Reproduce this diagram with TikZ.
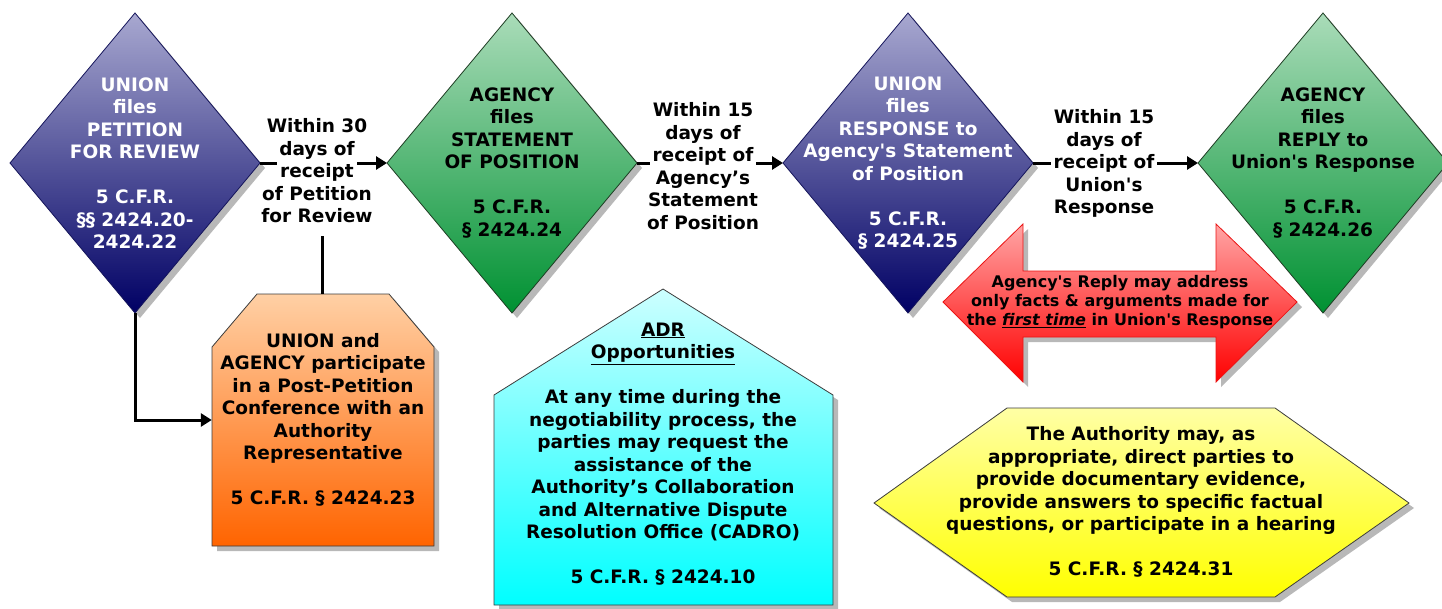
\documentclass[tikz,border=0pt]{standalone}
\usepackage{fontspec}
\setmainfont{DejaVu Sans}
\usetikzlibrary{shapes.geometric,shadows,arrows.meta}
\definecolor{blueTop}{RGB}{168,168,208}
\definecolor{blueBot}{RGB}{0,0,100}
\definecolor{blueLine}{RGB}{20,20,90}
\definecolor{greenTop}{RGB}{170,220,185}
\definecolor{greenBot}{RGB}{0,145,50}
\definecolor{greenLine}{RGB}{30,60,35}
\definecolor{orTop}{RGB}{255,208,165}
\definecolor{orBot}{RGB}{255,100,0}
\definecolor{cyTop}{RGB}{205,255,255}
\definecolor{cyBot}{RGB}{0,255,255}
\definecolor{ylTop}{RGB}{255,255,165}
\definecolor{ylBot}{RGB}{255,255,0}
\definecolor{rdTop}{RGB}{255,165,165}
\definecolor{rdBot}{RGB}{255,0,0}
\definecolor{rdLine}{RGB}{235,20,20}
\definecolor{shapeLine}{RGB}{60,60,60}
\newcommand\wb[1]{{\setlength{\fboxsep}{3pt}\colorbox{white}{#1}}}
\tikzset{
  shd/.style={drop shadow={shadow xshift=5pt,shadow yshift=-5pt,fill=black!28,opacity=1}},
  txt/.style={font=\fontsize{18.5}{22.5}\selectfont\bfseries, align=center, inner sep=0pt},
  rtxt/.style={font=\fontsize{16}{19}\selectfont\bfseries, align=center, inner sep=0pt},
  diabase/.style={diamond, minimum width=250pt, minimum height=300pt, inner sep=0pt, outer sep=0pt, line width=0.8pt, shd},
  bluedia/.style={diabase, draw=blueLine, top color=blueTop, bottom color=blueBot},
  greendia/.style={diabase, draw=greenLine, top color=greenTop, bottom color=greenBot},
  shapebox/.style={draw=shapeLine, line width=0.8pt, shd},
  conn/.style={line width=3pt, -{Triangle[length=11pt,width=13pt]}},
  plainline/.style={line width=3pt},
}
\begin{document}
\begin{tikzpicture}[x=1pt,y=-1pt]
\useasboundingbox (0,0) rectangle (1442,608);

% diamonds
\node[bluedia, label={[txt,text=white]center:{UNION\\files\\PETITION\\FOR REVIEW\\[22.5pt]5 C.F.R.\\§§ 2424.20-\\2424.22}}] (d1) at (135,163) {};
\node[greendia, label={[txt,text=black]center:{AGENCY\\files\\STATEMENT\\OF POSITION\\[22.5pt]5 C.F.R.\\§ 2424.24}}] (d2) at (512,163) {};
\node[bluedia, label={[txt,text=white]center:{UNION\\files\\RESPONSE to\\Agency\textquotesingle s Statement\\of Position\\[22.5pt]5 C.F.R.\\§ 2424.25}}] (d3) at (908,163) {};
\node[greendia, label={[txt,text=black]center:{AGENCY\\files\\REPLY to\\Union\textquotesingle s Response\\[22.5pt]5 C.F.R.\\§ 2424.26}}] (d4) at (1323,163) {};

% main connectors
\draw[conn] (d1.east) -- (d2.west);
\draw[conn] (d2.east) -- (d3.west);
\draw[conn] (d3.east) -- (d4.west);

% connector labels
\node[txt] (l1) at (317,171) {Within 30\\days of\\\wb{receipt}\\of Petition\\for Review};
\node[txt] (l2) at (703,166) {Within 15\\days of\\\wb{receipt of}\\Agency’s\\Statement\\of Position};
\node[txt] (l3) at (1104,163.5) {Within 15\\days of\\\wb{receipt of}\\Union\textquotesingle s\\Response};

% orange box
\path[shapebox, top color=orTop, bottom color=orBot]
  (212,347) -- (257,294) -- (389,294) -- (434,347) -- (434,546) -- (212,546) -- cycle;
\node[txt, minimum width=222pt, minimum height=252pt] (post) at (323,420)
  {UNION and\\AGENCY participate\\in a Post-Petition\\Conference with an\\Authority\\Representative\\[22.5pt]5 C.F.R. § 2424.23};
\draw[conn] (d1.south) |- (post.west);
\draw[plainline, shorten <=13pt] ([xshift=5pt]l1.south) -- ([xshift=5pt]l1.south |- post.north);

% cyan ADR house
\path[shapebox, top color=cyTop, bottom color=cyBot]
  (663,289) -- (833,395) -- (833,605) -- (494,605) -- (494,395) -- cycle;
\node[txt] (adr) at (663,454)
  {\underline{ADR}\\\underline{Opportunities}\\[22.5pt]At any time during the\\negotiability process, the\\parties may request the\\assistance of the\\Authority’s Collaboration\\and Alternative Dispute\\Resolution Office (CADRO)\\[22.5pt]5 C.F.R. § 2424.10};

% red double arrow
\path[draw=rdLine, line width=0.8pt, top color=rdTop, bottom color=rdBot, shd]
  (943,302) -- (1023,224) -- (1023,271) -- (1216,271) -- (1216,224) -- (1297,302)
  -- (1216,382) -- (1216,337) -- (1023,337) -- (1023,382) -- cycle;
\node[rtxt] (reply) at (1120,302)
  {Agency\textquotesingle s Reply may address\\only facts \& arguments made for\\the \underline{\textit{first time}} in Union\textquotesingle s Response};

% yellow hexagon
\path[shapebox, top color=ylTop, bottom color=ylBot]
  (874,503) -- (1007,408) -- (1275,408) -- (1409,503) -- (1275,597) -- (1007,597) -- cycle;
\node[txt] (auth) at (1141,502)
  {The Authority may, as\\appropriate, direct parties to\\provide documentary evidence,\\provide answers to specific factual\\questions, or participate in a hearing\\[22.5pt]5 C.F.R. § 2424.31};
\end{tikzpicture}
\end{document}
